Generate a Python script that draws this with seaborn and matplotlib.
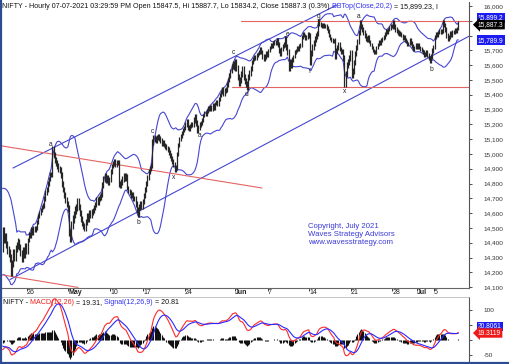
import numpy as np
import pandas as pd
import matplotlib
matplotlib.use("Agg")
import matplotlib.pyplot as plt
import seaborn as sns
from matplotlib.transforms import ScaledTranslation

sns.set_theme(style="white")
plt.rcParams["font.family"] = ["Liberation Sans", "DejaVu Sans"]

# sessions shown on the chart (7 hourly bars each)
days = ["Apr 20", "Apr 22", "Apr 23", "Apr 26", "Apr 27", "Apr 28", "Apr 29", "Apr 30",
        "May 3", "May 4", "May 5", "May 6", "May 7", "May 10", "May 11", "May 12", "May 14",
        "May 17", "May 18", "May 19", "May 20", "May 21", "May 24", "May 25", "May 26",
        "May 27", "May 28", "May 31", "Jun 1", "Jun 2", "Jun 3", "Jun 4", "Jun 7", "Jun 8",
        "Jun 9", "Jun 10", "Jun 11", "Jun 14", "Jun 15", "Jun 16", "Jun 17", "Jun 18",
        "Jun 21", "Jun 22", "Jun 23", "Jun 24", "Jun 25", "Jun 28", "Jun 29", "Jun 30",
        "Jul 1", "Jul 2", "Jul 5", "Jul 6", "Jul 7"]

# hourly closes before the visible window (Apr 15, 16, 19) - only feed the indicators
warmup_closes = [14450, 14400, 14420, 14480, 14520, 14560, 14581,
                 14620, 14640, 14660, 14640, 14610, 14600, 14617,
                 14300, 14240, 14220, 14280, 14330, 14350, 14359]

hourly_closes = [
    [14480, 14420, 14440, 14390, 14350, 14330, 14296],  # Apr 20
    [14200, 14260, 14330, 14300, 14360, 14380, 14406],  # Apr 22
    [14370, 14330, 14290, 14350, 14320, 14380, 14341],  # Apr 23
    [14420, 14460, 14450, 14490, 14470, 14500, 14485],  # Apr 26
    [14500, 14540, 14580, 14600, 14620, 14640, 14653],  # Apr 27
    [14700, 14740, 14760, 14800, 14830, 14860, 14864],  # Apr 28
    [15035, 14990, 14960, 14940, 14920, 14900, 14894],  # Apr 29
    [14860, 14800, 14760, 14720, 14690, 14660, 14631],  # Apr 30
    [14470, 14430, 14520, 14560, 14590, 14620, 14634],  # May 3
    [14680, 14640, 14600, 14560, 14530, 14510, 14496],  # May 4
    [14540, 14580, 14560, 14600, 14590, 14610, 14617],  # May 5
    [14640, 14660, 14690, 14670, 14700, 14710, 14724],  # May 6
    [14790, 14830, 14850, 14820, 14840, 14810, 14823],  # May 7
    [14880, 14920, 14935, 14950, 14930, 14945, 14942],  # May 10
    [14800, 14790, 14810, 14830, 14850, 14840, 14850],  # May 11
    [14770, 14750, 14740, 14720, 14730, 14700, 14696],  # May 12
    [14660, 14620, 14595, 14640, 14660, 14650, 14677],  # May 14
    [14720, 14760, 14800, 14840, 14880, 14900, 14923],  # May 17
    [15080, 15110, 15100, 15090, 15110, 15120, 15108],  # May 18
    [15090, 15070, 15080, 15060, 15050, 15040, 15030],  # May 19
    [15010, 14990, 14970, 14950, 14930, 14895, 14906],  # May 20
    [15000, 15060, 15100, 15120, 15140, 15160, 15175],  # May 21
    [15200, 15220, 15180, 15170, 15190, 15200, 15197],  # May 24
    [15230, 15250, 15210, 15160, 15180, 15200, 15208],  # May 25
    [15230, 15260, 15280, 15270, 15290, 15310, 15301],  # May 26
    [15320, 15300, 15330, 15310, 15340, 15350, 15337],  # May 27
    [15370, 15400, 15420, 15440, 15410, 15430, 15435],  # May 28
    [15470, 15500, 15530, 15560, 15590, 15610, 15582],  # May 31
    [15620, 15580, 15520, 15480, 15500, 15540, 15574],  # Jun 1
    [15520, 15490, 15470, 15455, 15520, 15550, 15576],  # Jun 2
    [15620, 15640, 15660, 15650, 15670, 15680, 15690],  # Jun 3
    [15710, 15690, 15660, 15640, 15660, 15680, 15670],  # Jun 4
    [15700, 15720, 15740, 15730, 15750, 15760, 15751],  # Jun 7
    [15770, 15740, 15700, 15680, 15710, 15730, 15740],  # Jun 8
    [15780, 15720, 15690, 15580, 15620, 15600, 15635],  # Jun 9
    [15660, 15690, 15700, 15720, 15710, 15730, 15737],  # Jun 10
    [15790, 15810, 15800, 15780, 15790, 15810, 15799],  # Jun 11
    [15620, 15680, 15720, 15750, 15780, 15800, 15811],  # Jun 14
    [15900, 15880, 15870, 15860, 15875, 15865, 15869],  # Jun 15
    [15850, 15830, 15800, 15780, 15770, 15760, 15768],  # Jun 16
    [15660, 15700, 15720, 15740, 15710, 15690, 15691],  # Jun 17
    [15650, 15470, 15540, 15600, 15620, 15650, 15683],  # Jun 18
    [15530, 15560, 15620, 15680, 15720, 15760, 15820],  # Jun 21
    [15890, 15860, 15840, 15820, 15800, 15780, 15772],  # Jun 22
    [15790, 15760, 15740, 15720, 15700, 15690, 15686],  # Jun 23
    [15720, 15740, 15760, 15750, 15770, 15780, 15790],  # Jun 24
    [15810, 15830, 15820, 15840, 15850, 15865, 15860],  # Jun 25
    [15890, 15860, 15840, 15830, 15820, 15810, 15814],  # Jun 28
    [15800, 15780, 15790, 15770, 15760, 15740, 15748],  # Jun 29
    [15770, 15750, 15730, 15710, 15720, 15740, 15721],  # Jun 30
    [15740, 15720, 15710, 15700, 15690, 15670, 15680],  # Jul 1
    [15690, 15670, 15650, 15630, 15660, 15700, 15722],  # Jul 2
    [15790, 15810, 15800, 15820, 15830, 15825, 15834],  # Jul 5
    [15890, 15870, 15840, 15800, 15780, 15790, 15818],  # Jul 6
    [15800, 15830, 15820, 15840, 15830, 15847.5, 15887.3],  # Jul 7
]

# typical hourly wick beyond the open/close range, per session (points)
session_wick = [25, 25, 20, 15, 15, 15, 20, 20, 25, 20, 20, 18, 18, 15, 20, 15, 20,
                18, 18, 15, 18, 15, 15, 18, 12, 12, 15, 15, 20, 20, 12, 15, 12, 15,
                20, 12, 12, 20, 12, 12, 15, 20, 18, 15, 12, 12, 12, 15, 12, 12, 12,
                15, 12, 15, 10]

tick_days = ["Apr 26", "May 3", "May 10", "May 17", "May 24", "Jun 1", "Jun 7",
             "Jun 14", "Jun 21", "Jun 28", "Jul 1", "Jul 5"]
tick_labels = ["26", "May", "10", "17", "24", "Jun", "7", "14", "21", "28", "Jul", "5"]

# wave count labels: (text, bar position, price)
wave_labels = [("a", 40.8, 15061), ("b", 114.1, 14540), ("c", 125.9, 15149),
               ("x", 144.4, 14838), ("a", 166.3, 15122), ("c", 194.1, 15689),
               ("d", 205.9, 15405), ("e", 240.4, 15804), ("f", 259.0, 15554),
               ("g", 266.6, 15926), ("x", 288.5, 15419), ("a", 300.3, 15926),
               ("b", 360.9, 15574)]

# analyst trend lines: ((bar, price), (bar, price))
channel_lines = [((8.8, 14905), (281.7, 16007)), ((6.2, 14151), (393.8, 15799))]
red_lines = [((-0.5, 15054), (218.5, 14770)), ((0.3, 14182), (63.5, 14098)),
             ((200.8, 15900), (393.5, 15900)), ((193.3, 15450), (393.5, 15450))]

price_ticks = list(range(14100, 16001, 100))
macd_ticks = [-50, 0, 50, 100]

# ---- indicators
closes = pd.Series(warmup_closes + [c for d in hourly_closes for c in d], dtype=float)
n_warm = len(warmup_closes)
mid = closes.rolling(20).mean()
sd = closes.rolling(20).std(ddof=0)
bb_top = (mid + 2 * sd).iloc[n_warm:].to_numpy()
bb_bot = (mid - 2 * sd).iloc[n_warm:].to_numpy()
ema12 = closes.ewm(span=12, adjust=False).mean()
ema26 = closes.ewm(span=26, adjust=False).mean()
macd = ema12 - ema26
signal = macd.ewm(span=9, adjust=False).mean()
hist = (macd - signal).iloc[n_warm:].to_numpy()
macd = macd.iloc[n_warm:].to_numpy()
signal = signal.iloc[n_warm:].to_numpy()

close_v = closes.iloc[n_warm:].to_numpy()
open_v = closes.shift(1).iloc[n_warm:].to_numpy()
wick_v = np.repeat(session_wick, 7)
high_v = np.maximum(open_v, close_v) + wick_v
low_v = np.minimum(open_v, close_v) - wick_v
xs = np.arange(len(close_v))

W, H = 509, 364
fig = plt.figure(figsize=(W / 100, H / 100), dpi=100)
fig.patch.set_facecolor("white")


def box(l, t, r, b):
    return [l / W, 1 - b / H, (r - l) / W, (b - t) / H]


ax = fig.add_axes(box(2, 2, 469, 288))
ax2 = fig.add_axes(box(2, 297, 469, 362))

BLUE = "#4646d2"
RED = "#e46464"
TXT = "#333333"

# price bars (high-low range of each hour)
ax.vlines(xs, low_v, high_v, color="#262626", lw=0.9, zorder=3)
sns.lineplot(x=xs, y=bb_top, ax=ax, color=BLUE, lw=0.8, zorder=2)
sns.lineplot(x=xs, y=bb_bot, ax=ax, color=BLUE, lw=0.8, zorder=2)
for (x0, y0), (x1, y1) in channel_lines:
    ax.plot([x0, x1], [y0, y1], color=BLUE, lw=0.8, zorder=2)
for (x0, y0), (x1, y1) in red_lines:
    ax.plot([x0, x1], [y0, y1], color=RED, lw=0.8, zorder=2)
for t, bx, p in wave_labels:
    ax.text(bx, p, t, fontsize=4.8, color="#222222", ha="center", va="center", zorder=4)

ax.set_xlim(-0.5, 393)
ax.set_ylim(14094, 16027)
ax.set_yticks(price_ticks)
ax.set_yticklabels(["" if p in (15900, 15800) else f"{p:,}" for p in price_ticks])
ax.yaxis.tick_right()
tick_pos = [days.index(d) * 7 - 0.5 for d in tick_days]
ax.set_xticks(tick_pos)
ax.set_xticklabels(tick_labels)
for lbl, txt in zip(ax.get_xticklabels(), tick_labels):
    lbl.set_ha("left")
    lbl.set_transform(lbl.get_transform() + ScaledTranslation(1.5 / 100, 0, fig.dpi_scale_trans))
    if txt.isalpha():
        lbl.set_fontweight("bold")
ax.tick_params(axis="y", direction="out", length=2.5, width=0.6, pad=8, labelsize=4.6,
               colors=TXT, right=True, left=False)
ax.tick_params(axis="x", direction="out", length=2.5, width=0.6, pad=-1.8, labelsize=5.0,
               colors="#222222", bottom=True)
for s in ["left", "top"]:
    ax.spines[s].set_visible(False)
ax.spines["right"].set_color("#555555")
ax.spines["bottom"].set_color("#666666")
ax.spines["right"].set_linewidth(0.8)
ax.spines["bottom"].set_linewidth(0.8)

# MACD panel
ax2.vlines(xs, 0, hist, color="#111111", lw=0.8)
sns.lineplot(x=xs, y=macd, ax=ax2, color="#ff2a2a", lw=0.8)
sns.lineplot(x=xs, y=signal, ax=ax2, color="#2a2aff", lw=0.8)
ax2.set_xlim(-0.5, 393)
ax2.set_ylim(-75, 144)
ax2.set_yticks(macd_ticks)
ax2.set_yticklabels(["" if v in (0, 50) else str(v) for v in macd_ticks])
ax2.yaxis.tick_right()
ax2.set_xticks([])
ax2.tick_params(axis="y", direction="out", length=2.5, width=0.6, pad=8, labelsize=4.6,
                colors=TXT, right=True, left=False)
for s in ["left", "bottom"]:
    ax2.spines[s].set_visible(False)
ax2.spines["right"].set_color("#555555")
ax2.spines["top"].set_color("#bbbbbb")
ax2.spines["right"].set_linewidth(0.8)
ax2.spines["top"].set_linewidth(0.6)


def segments(panel, x_px, y_px, parts, size=5.0):
    # chain coloured pieces of one header line, each placed after the previous one
    prev = None
    for s, c in parts:
        if prev is None:
            prev = panel.text(x_px / W, 1 - y_px / H, s, color=c, fontsize=size,
                              ha="left", va="bottom", transform=fig.transFigure)
        else:
            prev = panel.annotate(s, xy=(1, 0), xycoords=prev, color=c, fontsize=size,
                                  ha="left", va="bottom", annotation_clip=False)


segments(ax, 2, 10, [("NIFTY - Hourly 07-07-2021 03:29:59 PM Open 15847.5, Hi 15887.7, "
                      "Lo 15834.2, Close 15887.3 (0.3%)", "#111111"),
                     (" BBTop(Close,20,2)", "#3030ee"), (" = 15,899.23, I", "#111111")],
         size=5.15)
segments(ax2, 3, 306, [("NIFTY -", "#111111"), (" MACD(12,26)", "#ee2020"),
                       (" = 19.31,", "#111111"), (" Signal(12,26,9)", "#3030ee"),
                       (" = 20.81", "#111111")], size=5.15)

for i, line in enumerate(["Copyright, July 2021", "Waves Strategy Advisors",
                          "www.wavesstrategy.com"]):
    fig.text(308 / W, 1 - (227 + 7.5 * i) / H, line, color="#3a3ad8", fontsize=5.6,
             ha="left", va="center")


# value flags on the right axis
def flag(axis, value, text, fc, dy_px, arrow=False):
    y = axis.transData.transform((0, value))[1] - dy_px
    style = "larrow,pad=0.18" if arrow else "square,pad=0.18"
    fig.text(478 / W, y / H, text, color="white", fontsize=4.8, ha="left", va="center",
             bbox=dict(boxstyle=style, fc=fc, ec="none"))


flag(ax, 15899.23, "15,899.2", "#1c1cf2", -3)
flag(ax, 15887.3, "15,887.3", "#000000", 2, arrow=True)
flag(ax, 15789.9, "15,789.9", "#1c1cf2", 3)
flag(ax2, 20.8061, "20.8061", "#1c1cf2", -7)
flag(ax2, 19.3119, "19.3119", "#ee1a1a", -1, arrow=True)

# outer frame
fig.add_artist(plt.Line2D([0.5 / W, 0.5 / W], [0, 1], color="#2b4c93", lw=1.6))
fig.add_artist(plt.Line2D([0, 1], [1.0 / H, 1.0 / H], color="#2b4c93", lw=1.6))

fig.savefig("out.png", dpi=100, facecolor="white")
